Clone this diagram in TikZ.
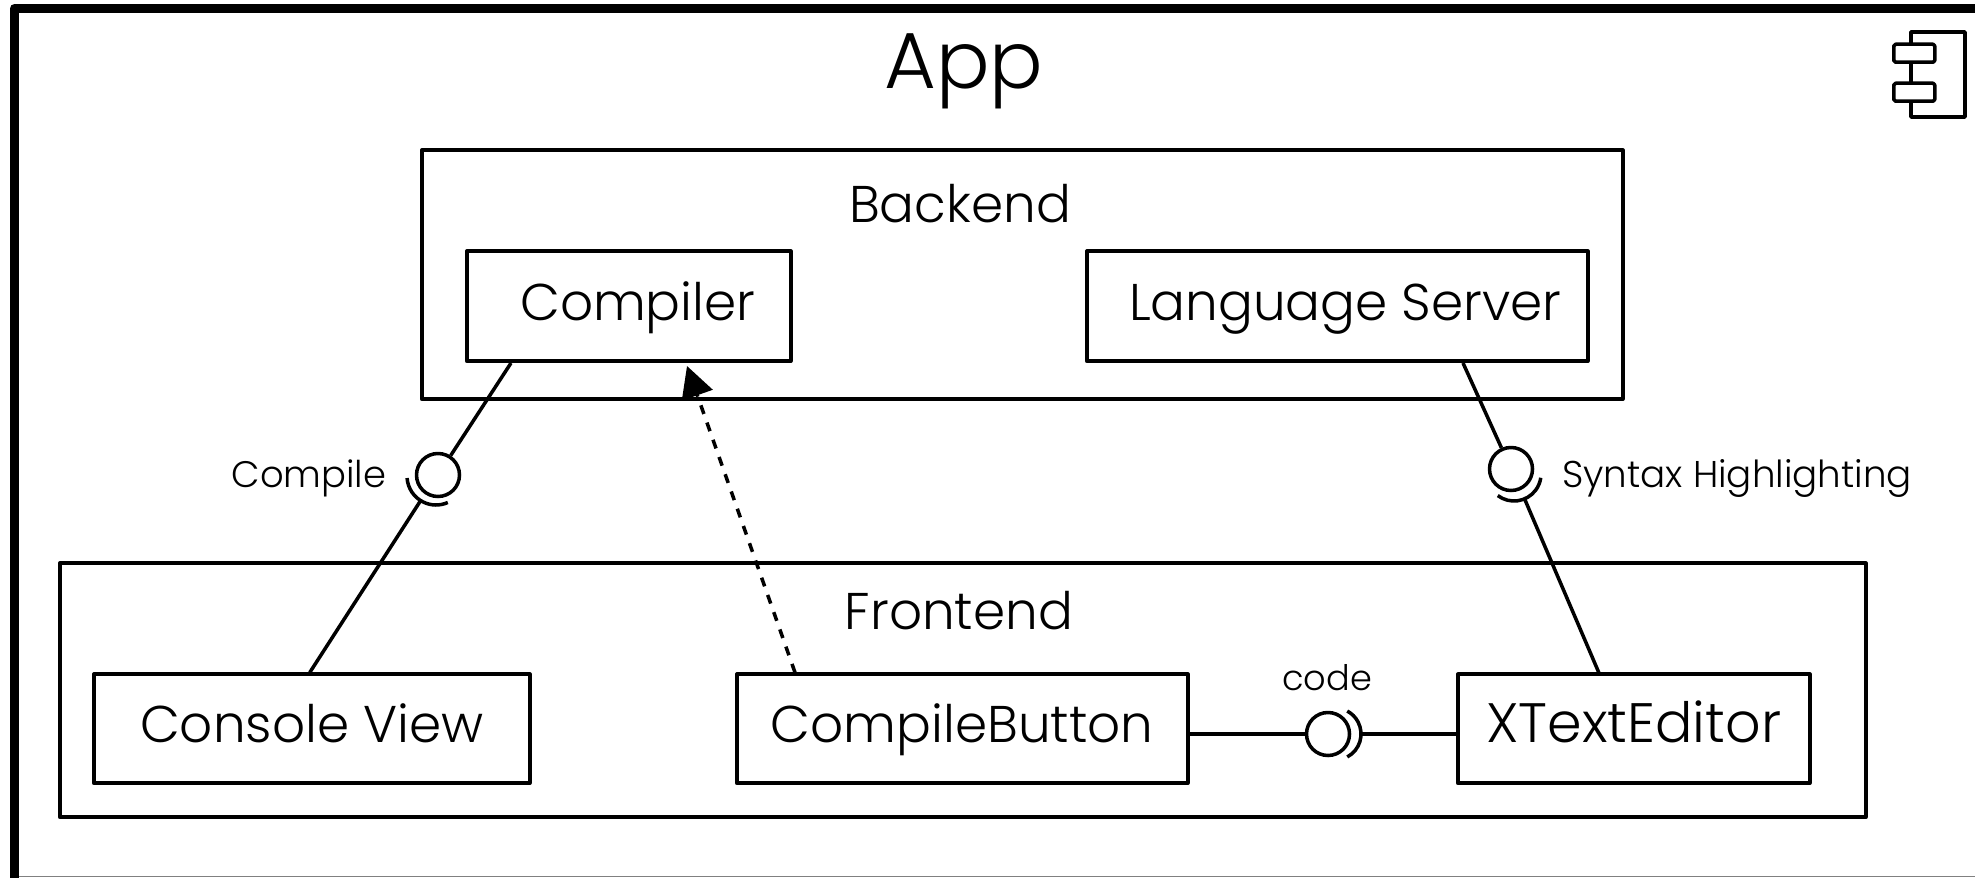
\documentclass[tikz,border=0pt]{standalone}
\usepackage{fontspec}
\setmainfont{Poppins Light}
\usetikzlibrary{arrows.meta,calc}
\tikzset{>={Triangle[length=.31cm,width=.32cm]},
every picture/.append style={
    line join=round,
    line width=1pt
  },
  compbox/.style={draw,rectangle,anchor=south west,inner sep=0pt,font=\fontsize{14.7}{18}\selectfont,text height=.41cm,text depth=.13cm},
  groupbox/.style={draw,rectangle,anchor=south west,inner sep=0pt},
  grouptitle/.style={anchor=base,font=\fontsize{14.7}{18}\selectfont},
  portlabel/.style={anchor=base,font=\fontsize{10.5}{13}\selectfont},
  ball/.style={draw,circle,minimum size=.43cm,inner sep=0pt},
  icontab/.style={draw,fill=white,rectangle,rounded corners=.5pt,anchor=south west,inner sep=0pt,minimum width=.41cm,minimum height=.18cm}
}

\begin{document}
\begin{tikzpicture}
    \useasboundingbox (0,0) rectangle (19.75,8.77);
    \draw [line width=.3pt,gray] (0.19,.005) -- (19.75,.005);
    \draw [line width=2.55pt] (0.145,-1) -- (0.145,8.685) -- (20.5,8.685);
    \node [anchor=base,font=\fontsize{22.6}{30}\selectfont] (app) at (9.64,7.88) {App};

    \draw (19.11,8.45) rectangle (19.65,7.60);
    \node [icontab] (icontop) at (18.92,8.13) {};
    \node [icontab] (iconbottom) at (18.92,7.74) {};

    \node [groupbox,minimum width=12.01cm,minimum height=2.49cm] (backend) at (4.20,4.76) {};
    \node [grouptitle] (backendtitle) at (9.60,6.54) {Backend};
    \node [compbox,minimum width=3.24cm,minimum height=1.10cm] (compiler) at (4.65,5.14) {\hspace{.18cm}Compiler};
    \node [compbox,minimum width=5.01cm,minimum height=1.10cm] (server) at (10.85,5.14) {\hspace{.16cm}Language Server};

    \node [groupbox,minimum width=18.06cm,minimum height=2.54cm] (frontend) at (0.58,0.58) {};
    \node [grouptitle] (frontendtitle) at (9.59,2.48) {Frontend};
    \node [compbox,minimum width=4.36cm,minimum height=1.09cm] (console) at (0.92,0.92) {Console View};
    \node [compbox,minimum width=4.51cm,minimum height=1.09cm] (button) at (7.35,0.92) {CompileButton};
    \node [compbox,minimum width=3.52cm,minimum height=1.09cm,font=\fontsize{15.8}{18}\selectfont] (editor) at (14.56,0.92) {XTextEditor};

    \node [ball] (compileball) at (4.38,4.02) {};
    \node [portlabel] (compilelabel) at (3.09,3.90) {Compile};
    \coordinate (compilesocket) at (4.36,4.01);
    \coordinate (compilecut) at ($(compilesocket)+(238:.29)$);
    \draw (compiler.south west) ++ (.46,0) -- (compileball);
    \draw (console.north) ++ (-.02,0) -- (compilecut);
    \draw ($(compilesocket)+(184:.29)$) arc (184:294:.29);

    \node [ball] (syntaxball) at (15.11,4.08) {};
    \node [portlabel,font=\fontsize{10.6}{13}\selectfont] (syntaxlabel) at (17.37,3.90) {Syntax Highlighting};
    \coordinate (syntaxsocket) at (15.14,4.03);
    \coordinate (syntaxcut) at ($(syntaxsocket)+(293:.27)$);
    \draw (server.south west) ++ (3.78,0) -- (syntaxball);
    \draw (editor.north) ++ (-.35,0) -- (syntaxcut);
    \draw ($(syntaxsocket)+(233:.27)$) arc (233:352:.27);

    \node [ball] (codeball) at (13.28,1.43) {};
    \node [portlabel,font=\fontsize{10}{13}\selectfont] (codelabel) at (13.27,1.87) {code};
    \coordinate (codesocket) at (13.35,1.43);
    \draw (button.east |- codeball) -- (codeball);
    \draw (editor.west |- codeball) -- ($(codesocket)+(.26,0)$);
    \draw ($(codesocket)+(-62:.26)$) arc (-62:62:.26);

    \coordinate (compilertip) at (6.87,5.11);
    \draw [->,dashed,dash pattern=on 2.6pt off 2.6pt] (button.north west) ++ (.60,0) -- (compilertip);
\end{tikzpicture}
\end{document}
